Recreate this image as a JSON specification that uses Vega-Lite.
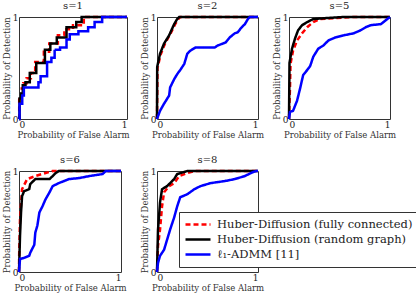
{
"$schema":"https://vega.github.io/schema/vega-lite/v6.json",
"padding":{"left":1,"top":0,"right":2,"bottom":2},
"background":"white",
"datasets":{"roc":[
{"s":1,"m":"Huber-Diffusion (fully connected)","x":0,"y":0},{"s":1,"m":"Huber-Diffusion (fully connected)","x":0.002,"y":0.22},{"s":1,"m":"Huber-Diffusion (fully connected)","x":0.025,"y":0.3},{"s":1,"m":"Huber-Diffusion (fully connected)","x":0.04,"y":0.35},{"s":1,"m":"Huber-Diffusion (fully connected)","x":0.07,"y":0.4},{"s":1,"m":"Huber-Diffusion (fully connected)","x":0.11,"y":0.45},{"s":1,"m":"Huber-Diffusion (fully connected)","x":0.15,"y":0.56},{"s":1,"m":"Huber-Diffusion (fully connected)","x":0.23,"y":0.66},{"s":1,"m":"Huber-Diffusion (fully connected)","x":0.28,"y":0.74},{"s":1,"m":"Huber-Diffusion (fully connected)","x":0.36,"y":0.82},{"s":1,"m":"Huber-Diffusion (fully connected)","x":0.42,"y":0.88},{"s":1,"m":"Huber-Diffusion (fully connected)","x":0.5,"y":0.92},{"s":1,"m":"Huber-Diffusion (fully connected)","x":0.6,"y":1},{"s":1,"m":"Huber-Diffusion (fully connected)","x":1,"y":1},
{"s":1,"m":"Huber-Diffusion (random graph)","x":0,"y":0},{"s":1,"m":"Huber-Diffusion (random graph)","x":0.005,"y":0.2},{"s":1,"m":"Huber-Diffusion (random graph)","x":0.02,"y":0.25},{"s":1,"m":"Huber-Diffusion (random graph)","x":0.035,"y":0.33},{"s":1,"m":"Huber-Diffusion (random graph)","x":0.06,"y":0.36},{"s":1,"m":"Huber-Diffusion (random graph)","x":0.1,"y":0.45},{"s":1,"m":"Huber-Diffusion (random graph)","x":0.16,"y":0.55},{"s":1,"m":"Huber-Diffusion (random graph)","x":0.24,"y":0.68},{"s":1,"m":"Huber-Diffusion (random graph)","x":0.29,"y":0.74},{"s":1,"m":"Huber-Diffusion (random graph)","x":0.35,"y":0.8},{"s":1,"m":"Huber-Diffusion (random graph)","x":0.44,"y":0.9},{"s":1,"m":"Huber-Diffusion (random graph)","x":0.53,"y":0.95},{"s":1,"m":"Huber-Diffusion (random graph)","x":0.58,"y":1},{"s":1,"m":"Huber-Diffusion (random graph)","x":1,"y":1},
{"s":1,"m":"ℓ₁-ADMM [11]","x":0,"y":0},{"s":1,"m":"ℓ₁-ADMM [11]","x":0.005,"y":0.15},{"s":1,"m":"ℓ₁-ADMM [11]","x":0.03,"y":0.23},{"s":1,"m":"ℓ₁-ADMM [11]","x":0.045,"y":0.31},{"s":1,"m":"ℓ₁-ADMM [11]","x":0.18,"y":0.36},{"s":1,"m":"ℓ₁-ADMM [11]","x":0.2,"y":0.42},{"s":1,"m":"ℓ₁-ADMM [11]","x":0.26,"y":0.56},{"s":1,"m":"ℓ₁-ADMM [11]","x":0.3,"y":0.6},{"s":1,"m":"ℓ₁-ADMM [11]","x":0.33,"y":0.68},{"s":1,"m":"ℓ₁-ADMM [11]","x":0.38,"y":0.7},{"s":1,"m":"ℓ₁-ADMM [11]","x":0.44,"y":0.78},{"s":1,"m":"ℓ₁-ADMM [11]","x":0.47,"y":0.83},{"s":1,"m":"ℓ₁-ADMM [11]","x":0.55,"y":0.86},{"s":1,"m":"ℓ₁-ADMM [11]","x":0.64,"y":0.9},{"s":1,"m":"ℓ₁-ADMM [11]","x":0.7,"y":0.95},{"s":1,"m":"ℓ₁-ADMM [11]","x":0.77,"y":1},{"s":1,"m":"ℓ₁-ADMM [11]","x":1,"y":1},
{"s":2,"m":"Huber-Diffusion (fully connected)","x":0,"y":0},{"s":2,"m":"Huber-Diffusion (fully connected)","x":0.005,"y":0.5},{"s":2,"m":"Huber-Diffusion (fully connected)","x":0.035,"y":0.63},{"s":2,"m":"Huber-Diffusion (fully connected)","x":0.08,"y":0.74},{"s":2,"m":"Huber-Diffusion (fully connected)","x":0.13,"y":0.83},{"s":2,"m":"Huber-Diffusion (fully connected)","x":0.18,"y":0.93},{"s":2,"m":"Huber-Diffusion (fully connected)","x":0.21,"y":0.98},{"s":2,"m":"Huber-Diffusion (fully connected)","x":0.23,"y":1},{"s":2,"m":"Huber-Diffusion (fully connected)","x":1,"y":1},
{"s":2,"m":"Huber-Diffusion (random graph)","x":0,"y":0},{"s":2,"m":"Huber-Diffusion (random graph)","x":0.002,"y":0.51},{"s":2,"m":"Huber-Diffusion (random graph)","x":0.03,"y":0.64},{"s":2,"m":"Huber-Diffusion (random graph)","x":0.07,"y":0.74},{"s":2,"m":"Huber-Diffusion (random graph)","x":0.12,"y":0.82},{"s":2,"m":"Huber-Diffusion (random graph)","x":0.17,"y":0.93},{"s":2,"m":"Huber-Diffusion (random graph)","x":0.2,"y":0.98},{"s":2,"m":"Huber-Diffusion (random graph)","x":0.22,"y":1},{"s":2,"m":"Huber-Diffusion (random graph)","x":1,"y":1},
{"s":2,"m":"ℓ₁-ADMM [11]","x":0,"y":0},{"s":2,"m":"ℓ₁-ADMM [11]","x":0.03,"y":0.08},{"s":2,"m":"ℓ₁-ADMM [11]","x":0.07,"y":0.15},{"s":2,"m":"ℓ₁-ADMM [11]","x":0.12,"y":0.23},{"s":2,"m":"ℓ₁-ADMM [11]","x":0.13,"y":0.31},{"s":2,"m":"ℓ₁-ADMM [11]","x":0.17,"y":0.39},{"s":2,"m":"ℓ₁-ADMM [11]","x":0.2,"y":0.44},{"s":2,"m":"ℓ₁-ADMM [11]","x":0.23,"y":0.48},{"s":2,"m":"ℓ₁-ADMM [11]","x":0.27,"y":0.54},{"s":2,"m":"ℓ₁-ADMM [11]","x":0.3,"y":0.64},{"s":2,"m":"ℓ₁-ADMM [11]","x":0.33,"y":0.67},{"s":2,"m":"ℓ₁-ADMM [11]","x":0.38,"y":0.7},{"s":2,"m":"ℓ₁-ADMM [11]","x":0.57,"y":0.7},{"s":2,"m":"ℓ₁-ADMM [11]","x":0.6,"y":0.72},{"s":2,"m":"ℓ₁-ADMM [11]","x":0.68,"y":0.75},{"s":2,"m":"ℓ₁-ADMM [11]","x":0.72,"y":0.8},{"s":2,"m":"ℓ₁-ADMM [11]","x":0.77,"y":0.84},{"s":2,"m":"ℓ₁-ADMM [11]","x":0.8,"y":0.85},{"s":2,"m":"ℓ₁-ADMM [11]","x":0.83,"y":0.89},{"s":2,"m":"ℓ₁-ADMM [11]","x":0.87,"y":0.93},{"s":2,"m":"ℓ₁-ADMM [11]","x":0.9,"y":0.98},{"s":2,"m":"ℓ₁-ADMM [11]","x":0.92,"y":1},{"s":2,"m":"ℓ₁-ADMM [11]","x":1,"y":1},
{"s":5,"m":"Huber-Diffusion (fully connected)","x":0,"y":0},{"s":5,"m":"Huber-Diffusion (fully connected)","x":0.01,"y":0.31},{"s":5,"m":"Huber-Diffusion (fully connected)","x":0.015,"y":0.54},{"s":5,"m":"Huber-Diffusion (fully connected)","x":0.04,"y":0.67},{"s":5,"m":"Huber-Diffusion (fully connected)","x":0.08,"y":0.77},{"s":5,"m":"Huber-Diffusion (fully connected)","x":0.13,"y":0.84},{"s":5,"m":"Huber-Diffusion (fully connected)","x":0.18,"y":0.9},{"s":5,"m":"Huber-Diffusion (fully connected)","x":0.24,"y":0.95},{"s":5,"m":"Huber-Diffusion (fully connected)","x":0.31,"y":0.98},{"s":5,"m":"Huber-Diffusion (fully connected)","x":0.64,"y":1},{"s":5,"m":"Huber-Diffusion (fully connected)","x":1,"y":1},
{"s":5,"m":"Huber-Diffusion (random graph)","x":0,"y":0},{"s":5,"m":"Huber-Diffusion (random graph)","x":0.005,"y":0.55},{"s":5,"m":"Huber-Diffusion (random graph)","x":0.03,"y":0.69},{"s":5,"m":"Huber-Diffusion (random graph)","x":0.06,"y":0.79},{"s":5,"m":"Huber-Diffusion (random graph)","x":0.09,"y":0.87},{"s":5,"m":"Huber-Diffusion (random graph)","x":0.13,"y":0.92},{"s":5,"m":"Huber-Diffusion (random graph)","x":0.18,"y":0.95},{"s":5,"m":"Huber-Diffusion (random graph)","x":0.24,"y":0.98},{"s":5,"m":"Huber-Diffusion (random graph)","x":0.38,"y":0.99},{"s":5,"m":"Huber-Diffusion (random graph)","x":0.54,"y":1},{"s":5,"m":"Huber-Diffusion (random graph)","x":1,"y":1},
{"s":5,"m":"ℓ₁-ADMM [11]","x":0,"y":0},{"s":5,"m":"ℓ₁-ADMM [11]","x":0.01,"y":0.07},{"s":5,"m":"ℓ₁-ADMM [11]","x":0.04,"y":0.08},{"s":5,"m":"ℓ₁-ADMM [11]","x":0.08,"y":0.18},{"s":5,"m":"ℓ₁-ADMM [11]","x":0.11,"y":0.3},{"s":5,"m":"ℓ₁-ADMM [11]","x":0.14,"y":0.43},{"s":5,"m":"ℓ₁-ADMM [11]","x":0.18,"y":0.48},{"s":5,"m":"ℓ₁-ADMM [11]","x":0.21,"y":0.52},{"s":5,"m":"ℓ₁-ADMM [11]","x":0.24,"y":0.61},{"s":5,"m":"ℓ₁-ADMM [11]","x":0.29,"y":0.69},{"s":5,"m":"ℓ₁-ADMM [11]","x":0.34,"y":0.72},{"s":5,"m":"ℓ₁-ADMM [11]","x":0.39,"y":0.77},{"s":5,"m":"ℓ₁-ADMM [11]","x":0.46,"y":0.8},{"s":5,"m":"ℓ₁-ADMM [11]","x":0.54,"y":0.82},{"s":5,"m":"ℓ₁-ADMM [11]","x":0.64,"y":0.84},{"s":5,"m":"ℓ₁-ADMM [11]","x":0.71,"y":0.87},{"s":5,"m":"ℓ₁-ADMM [11]","x":0.76,"y":0.9},{"s":5,"m":"ℓ₁-ADMM [11]","x":0.81,"y":0.92},{"s":5,"m":"ℓ₁-ADMM [11]","x":0.91,"y":0.93},{"s":5,"m":"ℓ₁-ADMM [11]","x":0.96,"y":0.97},{"s":5,"m":"ℓ₁-ADMM [11]","x":1,"y":1},
{"s":6,"m":"Huber-Diffusion (fully connected)","x":0,"y":0},{"s":6,"m":"Huber-Diffusion (fully connected)","x":0.002,"y":0.19},{"s":6,"m":"Huber-Diffusion (fully connected)","x":0.01,"y":0.52},{"s":6,"m":"Huber-Diffusion (fully connected)","x":0.03,"y":0.82},{"s":6,"m":"Huber-Diffusion (fully connected)","x":0.08,"y":0.92},{"s":6,"m":"Huber-Diffusion (fully connected)","x":0.16,"y":0.95},{"s":6,"m":"Huber-Diffusion (fully connected)","x":0.26,"y":0.98},{"s":6,"m":"Huber-Diffusion (fully connected)","x":0.33,"y":1},{"s":6,"m":"Huber-Diffusion (fully connected)","x":1,"y":1},
{"s":6,"m":"Huber-Diffusion (random graph)","x":0,"y":0},{"s":6,"m":"Huber-Diffusion (random graph)","x":0.01,"y":0.36},{"s":6,"m":"Huber-Diffusion (random graph)","x":0.02,"y":0.59},{"s":6,"m":"Huber-Diffusion (random graph)","x":0.03,"y":0.75},{"s":6,"m":"Huber-Diffusion (random graph)","x":0.05,"y":0.8},{"s":6,"m":"Huber-Diffusion (random graph)","x":0.1,"y":0.82},{"s":6,"m":"Huber-Diffusion (random graph)","x":0.11,"y":0.87},{"s":6,"m":"Huber-Diffusion (random graph)","x":0.16,"y":0.92},{"s":6,"m":"Huber-Diffusion (random graph)","x":0.3,"y":0.92},{"s":6,"m":"Huber-Diffusion (random graph)","x":0.33,"y":0.95},{"s":6,"m":"Huber-Diffusion (random graph)","x":0.36,"y":0.98},{"s":6,"m":"Huber-Diffusion (random graph)","x":0.39,"y":1},{"s":6,"m":"Huber-Diffusion (random graph)","x":1,"y":1},
{"s":6,"m":"ℓ₁-ADMM [11]","x":0,"y":0},{"s":6,"m":"ℓ₁-ADMM [11]","x":0.01,"y":0.13},{"s":6,"m":"ℓ₁-ADMM [11]","x":0.05,"y":0.14},{"s":6,"m":"ℓ₁-ADMM [11]","x":0.1,"y":0.16},{"s":6,"m":"ℓ₁-ADMM [11]","x":0.11,"y":0.19},{"s":6,"m":"ℓ₁-ADMM [11]","x":0.15,"y":0.27},{"s":6,"m":"ℓ₁-ADMM [11]","x":0.16,"y":0.39},{"s":6,"m":"ℓ₁-ADMM [11]","x":0.18,"y":0.46},{"s":6,"m":"ℓ₁-ADMM [11]","x":0.2,"y":0.59},{"s":6,"m":"ℓ₁-ADMM [11]","x":0.23,"y":0.65},{"s":6,"m":"ℓ₁-ADMM [11]","x":0.26,"y":0.72},{"s":6,"m":"ℓ₁-ADMM [11]","x":0.3,"y":0.79},{"s":6,"m":"ℓ₁-ADMM [11]","x":0.33,"y":0.85},{"s":6,"m":"ℓ₁-ADMM [11]","x":0.39,"y":0.88},{"s":6,"m":"ℓ₁-ADMM [11]","x":0.49,"y":0.92},{"s":6,"m":"ℓ₁-ADMM [11]","x":0.59,"y":0.93},{"s":6,"m":"ℓ₁-ADMM [11]","x":0.69,"y":0.95},{"s":6,"m":"ℓ₁-ADMM [11]","x":0.82,"y":0.97},{"s":6,"m":"ℓ₁-ADMM [11]","x":0.85,"y":1},{"s":6,"m":"ℓ₁-ADMM [11]","x":1,"y":1},
{"s":8,"m":"Huber-Diffusion (fully connected)","x":0,"y":0},{"s":8,"m":"Huber-Diffusion (fully connected)","x":0.01,"y":0.26},{"s":8,"m":"Huber-Diffusion (fully connected)","x":0.03,"y":0.42},{"s":8,"m":"Huber-Diffusion (fully connected)","x":0.05,"y":0.65},{"s":8,"m":"Huber-Diffusion (fully connected)","x":0.07,"y":0.79},{"s":8,"m":"Huber-Diffusion (fully connected)","x":0.12,"y":0.85},{"s":8,"m":"Huber-Diffusion (fully connected)","x":0.17,"y":0.88},{"s":8,"m":"Huber-Diffusion (fully connected)","x":0.22,"y":0.95},{"s":8,"m":"Huber-Diffusion (fully connected)","x":0.3,"y":0.98},{"s":8,"m":"Huber-Diffusion (fully connected)","x":0.37,"y":1},{"s":8,"m":"Huber-Diffusion (fully connected)","x":1,"y":1},
{"s":8,"m":"Huber-Diffusion (random graph)","x":0,"y":0},{"s":8,"m":"Huber-Diffusion (random graph)","x":0.01,"y":0.42},{"s":8,"m":"Huber-Diffusion (random graph)","x":0.02,"y":0.55},{"s":8,"m":"Huber-Diffusion (random graph)","x":0.03,"y":0.69},{"s":8,"m":"Huber-Diffusion (random graph)","x":0.05,"y":0.82},{"s":8,"m":"Huber-Diffusion (random graph)","x":0.1,"y":0.85},{"s":8,"m":"Huber-Diffusion (random graph)","x":0.13,"y":0.88},{"s":8,"m":"Huber-Diffusion (random graph)","x":0.17,"y":0.92},{"s":8,"m":"Huber-Diffusion (random graph)","x":0.2,"y":0.97},{"s":8,"m":"Huber-Diffusion (random graph)","x":0.27,"y":0.99},{"s":8,"m":"Huber-Diffusion (random graph)","x":0.3,"y":1},{"s":8,"m":"Huber-Diffusion (random graph)","x":1,"y":1},
{"s":8,"m":"ℓ₁-ADMM [11]","x":0,"y":0},{"s":8,"m":"ℓ₁-ADMM [11]","x":0.01,"y":0.09},{"s":8,"m":"ℓ₁-ADMM [11]","x":0.03,"y":0.16},{"s":8,"m":"ℓ₁-ADMM [11]","x":0.07,"y":0.22},{"s":8,"m":"ℓ₁-ADMM [11]","x":0.1,"y":0.32},{"s":8,"m":"ℓ₁-ADMM [11]","x":0.13,"y":0.42},{"s":8,"m":"ℓ₁-ADMM [11]","x":0.17,"y":0.54},{"s":8,"m":"ℓ₁-ADMM [11]","x":0.2,"y":0.65},{"s":8,"m":"ℓ₁-ADMM [11]","x":0.23,"y":0.74},{"s":8,"m":"ℓ₁-ADMM [11]","x":0.3,"y":0.77},{"s":8,"m":"ℓ₁-ADMM [11]","x":0.37,"y":0.82},{"s":8,"m":"ℓ₁-ADMM [11]","x":0.43,"y":0.85},{"s":8,"m":"ℓ₁-ADMM [11]","x":0.53,"y":0.88},{"s":8,"m":"ℓ₁-ADMM [11]","x":0.67,"y":0.9},{"s":8,"m":"ℓ₁-ADMM [11]","x":0.77,"y":0.92},{"s":8,"m":"ℓ₁-ADMM [11]","x":0.87,"y":0.95},{"s":8,"m":"ℓ₁-ADMM [11]","x":0.93,"y":0.98},{"s":8,"m":"ℓ₁-ADMM [11]","x":0.98,"y":1},{"s":8,"m":"ℓ₁-ADMM [11]","x":1,"y":1}
]},
"data":{"name":"roc"},
"spacing":15,
"vconcat":[
 {"spacing":6,"hconcat":[
  {"width":108,"height":102,"title":"s=1","transform":[{"filter":"datum.s==1"}],
   "mark":{"type":"line","interpolate":"step-after","strokeWidth":2.5},
   "encoding":{
    "x":{"field":"x","type":"quantitative","scale":{"domain":[0,1]},"axis":{"values":[0,1],"format":"d"},"title":"Probability of False Alarm"},
    "y":{"field":"y","type":"quantitative","scale":{"domain":[0,1]},"axis":{"values":[0,1],"format":"d"},"title":"Probability of Detection"},
    "color":{"field":"m","type":"nominal","title":null,"scale":{"domain":["Huber-Diffusion (fully connected)","Huber-Diffusion (random graph)","ℓ₁-ADMM [11]"],"range":["#ff0000","#000000","#0000ff"]},"legend":{"orient":"none","legendX":160,"legendY":195}},
    "strokeDash":{"field":"m","type":"nominal","title":null,"scale":{"domain":["Huber-Diffusion (fully connected)","Huber-Diffusion (random graph)","ℓ₁-ADMM [11]"],"range":[[5,3],[1,0],[1,0]]},"legend":{"orient":"none","legendX":160,"legendY":195}}}},
  {"spacing":6,"hconcat":[
   {"width":101,"height":102,"title":"s=2","transform":[{"filter":"datum.s==2"}],
    "mark":{"type":"line","strokeWidth":2.5},
    "encoding":{
     "x":{"field":"x","type":"quantitative","scale":{"domain":[0,1]},"axis":{"values":[0,1],"format":"d"},"title":"Probability of False Alarm"},
     "y":{"field":"y","type":"quantitative","scale":{"domain":[0,1]},"axis":{"values":[0,1],"format":"d"},"title":"Probability of Detection"},
     "color":{"field":"m","type":"nominal","title":null,"scale":{"domain":["Huber-Diffusion (fully connected)","Huber-Diffusion (random graph)","ℓ₁-ADMM [11]"],"range":["#ff0000","#000000","#0000ff"]},"legend":{"orient":"none","legendX":160,"legendY":195}},
     "strokeDash":{"field":"m","type":"nominal","title":null,"scale":{"domain":["Huber-Diffusion (fully connected)","Huber-Diffusion (random graph)","ℓ₁-ADMM [11]"],"range":[[5,3],[1,0],[1,0]]},"legend":{"orient":"none","legendX":160,"legendY":195}}}},
   {"width":101,"height":102,"title":"s=5","transform":[{"filter":"datum.s==5"}],
    "mark":{"type":"line","strokeWidth":2.5},
    "encoding":{
     "x":{"field":"x","type":"quantitative","scale":{"domain":[0,1]},"axis":{"values":[0,1],"format":"d"},"title":"Probability of False Alarm"},
     "y":{"field":"y","type":"quantitative","scale":{"domain":[0,1]},"axis":{"values":[0,1],"format":"d"},"title":"Probability of Detection"},
     "color":{"field":"m","type":"nominal","title":null,"scale":{"domain":["Huber-Diffusion (fully connected)","Huber-Diffusion (random graph)","ℓ₁-ADMM [11]"],"range":["#ff0000","#000000","#0000ff"]},"legend":{"orient":"none","legendX":160,"legendY":195}},
     "strokeDash":{"field":"m","type":"nominal","title":null,"scale":{"domain":["Huber-Diffusion (fully connected)","Huber-Diffusion (random graph)","ℓ₁-ADMM [11]"],"range":[[5,3],[1,0],[1,0]]},"legend":{"orient":"none","legendX":160,"legendY":195}}}}
  ]}
 ]},
 {"spacing":12,"hconcat":[
  {"width":102,"height":101,"title":"s=6","transform":[{"filter":"datum.s==6"}],
   "mark":{"type":"line","strokeWidth":2.5},
   "encoding":{
    "x":{"field":"x","type":"quantitative","scale":{"domain":[0,1]},"axis":{"values":[0,1],"format":"d"},"title":"Probability of False Alarm"},
    "y":{"field":"y","type":"quantitative","scale":{"domain":[0,1]},"axis":{"values":[0,1],"format":"d"},"title":"Probability of Detection"},
    "color":{"field":"m","type":"nominal","title":null,"scale":{"domain":["Huber-Diffusion (fully connected)","Huber-Diffusion (random graph)","ℓ₁-ADMM [11]"],"range":["#ff0000","#000000","#0000ff"]},"legend":{"orient":"none","legendX":160,"legendY":195}},
    "strokeDash":{"field":"m","type":"nominal","title":null,"scale":{"domain":["Huber-Diffusion (fully connected)","Huber-Diffusion (random graph)","ℓ₁-ADMM [11]"],"range":[[5,3],[1,0],[1,0]]},"legend":{"orient":"none","legendX":160,"legendY":195}}}},
  {"width":101,"height":101,"title":"s=8","transform":[{"filter":"datum.s==8"}],
   "mark":{"type":"line","strokeWidth":2.5},
   "encoding":{
    "x":{"field":"x","type":"quantitative","scale":{"domain":[0,1]},"axis":{"values":[0,1],"format":"d"},"title":"Probability of False Alarm"},
    "y":{"field":"y","type":"quantitative","scale":{"domain":[0,1]},"axis":{"values":[0,1],"format":"d"},"title":"Probability of Detection"},
    "color":{"field":"m","type":"nominal","title":null,"scale":{"domain":["Huber-Diffusion (fully connected)","Huber-Diffusion (random graph)","ℓ₁-ADMM [11]"],"range":["#ff0000","#000000","#0000ff"]},"legend":{"orient":"none","legendX":160,"legendY":195}},
    "strokeDash":{"field":"m","type":"nominal","title":null,"scale":{"domain":["Huber-Diffusion (fully connected)","Huber-Diffusion (random graph)","ℓ₁-ADMM [11]"],"range":[[5,3],[1,0],[1,0]]},"legend":{"orient":"none","legendX":160,"legendY":195}}}}
 ]}
],
"config":{
 "view":{"stroke":"#333","strokeWidth":1},
 "font":"DejaVu Serif",
 "title":{"font":"DejaVu Serif","fontSize":10,"fontWeight":"normal","color":"#222","offset":1},
 "axis":{"grid":false,"ticks":false,"domain":false,"labelFont":"DejaVu Serif","labelFontSize":9,"labelColor":"#222","labelPadding":1,"titleFont":"DejaVu Serif","titleFontSize":8.5,"titleFontWeight":"normal","titleColor":"#333","titlePadding":1},
 "legend":{"strokeColor":"#333","fillColor":"white","padding":5,"symbolType":"stroke","symbolSize":625,"symbolStrokeWidth":2.5,"labelFont":"DejaVu Serif","labelFontSize":11.5,"labelColor":"#222","labelOffset":5,"clipHeight":15,"rowPadding":0,"labelLimit":300}
}
}
